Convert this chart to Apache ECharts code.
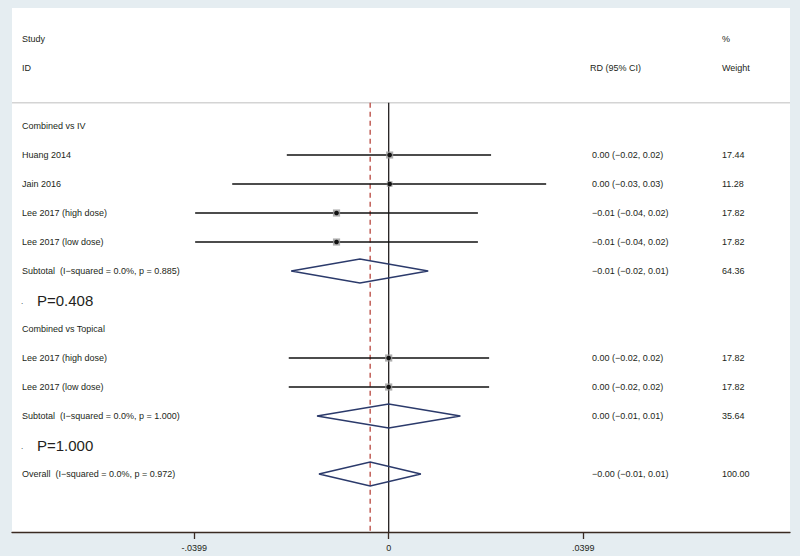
<!DOCTYPE html>
<html>
<head>
<meta charset="utf-8">
<script src="https://cdn.jsdelivr.net/npm/echarts@6/dist/echarts.min.js"></script>
<style>
  html, body { margin: 0; padding: 0; background: #e5edf1; }
  #chart { width: 800px; height: 556px; }
</style>
</head>
<body>
<div id="chart"></div>
<script>
// rows of the forest plot, top to bottom
const rowLabels = [
  'Combined vs IV', 'Huang 2014', 'Jain 2016', 'Lee 2017 (high dose)', 'Lee 2017 (low dose)',
  'Subtotal  (I\u2212squared = 0.0%, p = 0.885)', '',
  'Combined vs Topical', 'Lee 2017 (high dose)', 'Lee 2017 (low dose)',
  'Subtotal  (I\u2212squared = 0.0%, p = 1.000)', '',
  'Overall  (I\u2212squared = 0.0%, p = 0.972)'
];
const rowKind = ['head', 'study', 'study', 'study', 'study', 'sub', 'p', 'head', 'study', 'study', 'sub', 'p', 'sub'];
const est   = [null, 0.0002, 0.0002, -0.0107, -0.0107, -0.0059, null, null, 0.0000, 0.0000, 0.0000, null, -0.0038];
const lower = [null, -0.0209, -0.0321, -0.0397, -0.0397, -0.0200, null, null, -0.0205, -0.0205, -0.0147, null, -0.0143];
const upper = [null, 0.0210, 0.0323, 0.0183, 0.0183, 0.0081, null, null, 0.0206, 0.0206, 0.0147, null, 0.0066];
const ciText = ['', '0.00 (\u22120.02, 0.02)', '0.00 (\u22120.03, 0.03)', '\u22120.01 (\u22120.04, 0.02)', '\u22120.01 (\u22120.04, 0.02)',
  '\u22120.01 (\u22120.02, 0.01)', '', '', '0.00 (\u22120.02, 0.02)', '0.00 (\u22120.02, 0.02)', '0.00 (\u22120.01, 0.01)', '',
  '\u22120.00 (\u22120.01, 0.01)'];
const weights = [null, 17.44, 11.28, 17.82, 17.82, 64.36, null, null, 17.82, 17.82, 35.64, null, 100.00];
const pText = ['', '', '', '', '', '', 'P=0.408', '', '', '', '', 'P=1.000', ''];
const tickValues = [-0.0399, 0, 0.0399];
const tickLabels = ['-.0399', '0', '.0399'];
const overallEst = -0.0038;

const FONT = "'Liberation Sans', Arial, sans-serif";
const FS = 9;
const TXT = '#231f20';

var chart = echarts.init(document.getElementById('chart'), null, { renderer: 'svg' });

function txt(x, y, s, size) {
  return {
    type: 'text',
    style: { x: x, y: y, text: s, fill: TXT, font: size + 'px ' + FONT, verticalAlign: 'middle', align: 'left' }
  };
}

function renderRow(params, api) {
  var i = api.value(0);
  var cs = params.coordSys;
  var yc = api.coord([0, i])[1];
  var kids = [];
  var kind = rowKind[i];
  if (kind === 'p') {
    kids.push(txt(cs.x + 9, yc + 1, '.', 8));
    kids.push(txt(cs.x + 25, yc, pText[i], 15));
  } else if (rowLabels[i]) {
    kids.push(txt(cs.x + 10, yc, rowLabels[i], FS));
  }
  if (kind === 'study') {
    var a = api.coord([lower[i], i]), b = api.coord([upper[i], i]), c = api.coord([est[i], i]);
    var s = 1.7 * Math.sqrt(weights[i]);
    kids.push({ type: 'line', shape: { x1: a[0], y1: yc, x2: b[0], y2: yc }, style: { stroke: '#111', lineWidth: 1.6 } });
    kids.push({ type: 'rect', shape: { x: c[0] - s / 2, y: yc - s / 2, width: s, height: s }, style: { fill: '#9a9a9a', opacity: 0.8 } });
    kids.push({ type: 'circle', shape: { cx: c[0], cy: yc, r: 2.3 }, style: { fill: '#111' } });
  }
  if (kind === 'sub') {
    var l = api.coord([lower[i], i])[0], r = api.coord([upper[i], i])[0], m = api.coord([est[i], i])[0];
    kids.push({
      type: 'polygon',
      shape: { points: [[l, yc], [m, yc - 12], [r, yc], [m, yc + 12]] },
      style: { fill: 'none', stroke: '#2b3a6b', lineWidth: 1.6 }
    });
  }
  if (ciText[i]) kids.push(txt(cs.x + 580, yc, ciText[i], FS));
  if (weights[i] != null) kids.push(txt(cs.x + 710, yc, weights[i].toFixed(2), FS));
  return { type: 'group', children: kids };
}

function renderFrame(params, api) {
  var cs = params.coordSys;
  var ySep = api.coord([0, -0.8])[1];
  var yBot = cs.y + cs.height;
  var x0 = api.coord([0, 0])[0];
  var xo = api.coord([overallEst, 0])[0];
  var yS = api.coord([0, -3])[1], yI = api.coord([0, -2])[1];
  return {
    type: 'group',
    children: [
      { type: 'line', shape: { x1: cs.x, y1: ySep, x2: cs.x + cs.width, y2: ySep }, style: { stroke: '#d4d4d4', lineWidth: 1.5 } },
      { type: 'line', shape: { x1: xo, y1: ySep, x2: xo, y2: yBot }, style: { stroke: '#b8463e', lineWidth: 1.3, lineDash: [5, 4] } },
      { type: 'line', shape: { x1: x0, y1: ySep, x2: x0, y2: yBot }, style: { stroke: '#231f20', lineWidth: 1.3 } },
      txt(cs.x + 10, yS, 'Study', FS),
      txt(cs.x + 10, yI, 'ID', FS),
      txt(cs.x + 578, yI, 'RD (95% CI)', FS),
      txt(cs.x + 710, yS, '%', FS),
      txt(cs.x + 710, yI, 'Weight', FS)
    ]
  };
}

var option = {
  backgroundColor: '#e5edf1',
  animation: false,
  grid: { left: 12, right: 10, top: 8, bottom: 24, show: true, backgroundColor: '#ffffff', borderWidth: 0 },
  xAxis: {
    type: 'value',
    min: -0.07727,
    max: 0.08232,
    axisLine: { show: true, onZero: false, lineStyle: { color: '#3a2a22', width: 1.3 } },
    axisTick: { show: true, customValues: tickValues, length: 7, lineStyle: { color: '#3a2a22', width: 1.3 } },
    axisLabel: {
      customValues: tickValues,
      color: TXT, fontSize: FS, fontFamily: FONT, margin: 11,
      formatter: function (v) { return tickLabels[tickValues.indexOf(v)]; }
    },
    splitLine: { show: false }
  },
  yAxis: { type: 'value', inverse: true, min: -4.07, max: 14.0, show: false },
  series: [
    { type: 'custom', renderItem: renderFrame, data: [[0]], silent: true, clip: false },
    { type: 'custom', renderItem: renderRow, data: rowLabels.map(function (_, i) { return [i]; }), silent: true, clip: false }
  ]
};

chart.setOption(option);
</script>
</body>
</html>
